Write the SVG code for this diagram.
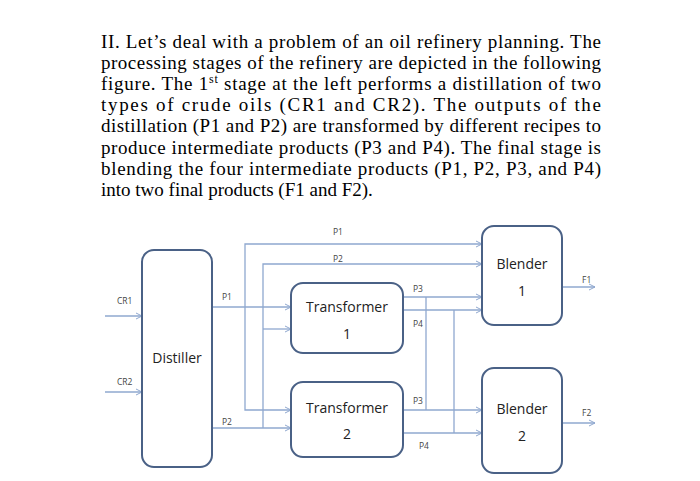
<svg xmlns="http://www.w3.org/2000/svg" width="700" height="481" viewBox="0 0 700 481">
<defs>
<marker id="a" markerWidth="8" markerHeight="8" refX="7" refY="4" orient="auto" markerUnits="userSpaceOnUse"><path d="M1,1 L7,4 L1,7" fill="none" stroke="#8fa8cf" stroke-width="1"/></marker>
</defs>
<style>
.p{font-family:"Liberation Serif",serif;font-size:19px;fill:#000}
.b{fill:#fff;stroke:#4a6186;stroke-width:2}
.n{font-family:"Open Sans","DejaVu Sans",sans-serif;font-size:14px;fill:#222;text-anchor:middle}
.l{font-family:"Open Sans","DejaVu Sans",sans-serif;font-size:8.5px;fill:#444}
.c{fill:none;stroke:#8fa8cf;stroke-width:1.3}
.c2{fill:none;stroke:#8fa8cf;stroke-width:1.3;marker-end:url(#a)}
</style>
<rect width="700" height="481" fill="#fff"/>
<g id="text">
<text class="p" x="101" y="48" textLength="500" lengthAdjust="spacing">II. Let’s deal with a problem of an oil refinery planning. The</text>
<text class="p" x="101" y="69" textLength="500" lengthAdjust="spacing">processing stages of the refinery are depicted in the following</text>
<text class="p" x="101" y="90" textLength="500" lengthAdjust="spacing">figure. The 1<tspan font-size="12" dy="-7">st</tspan><tspan dy="7"> stage at the left performs a distillation of two</tspan></text>
<text class="p" x="101" y="111" textLength="500" lengthAdjust="spacing">types of crude oils (CR1 and CR2). The outputs of the</text>
<text class="p" x="101" y="132" textLength="500" lengthAdjust="spacing">distillation (P1 and P2) are transformed by different recipes to</text>
<text class="p" x="101" y="154" textLength="500" lengthAdjust="spacing">produce intermediate products (P3 and P4). The final stage is</text>
<text class="p" x="101" y="175" textLength="500" lengthAdjust="spacing">blending the four intermediate products (P1, P2, P3, and P4)</text>
<text class="p" x="101" y="196">into two final products (F1 and F2).</text>
</g>
<g id="connectors">
<path class="c2" d="M105,316 H142"/>
<path class="c2" d="M105,392 H142"/>
<path class="c2" d="M212,307 H291"/>
<path class="c2" d="M212,428 H291"/>
<path class="c2" d="M245,307 V244 H482"/>
<path class="c2" d="M245,307 V410 H291"/>
<path class="c2" d="M263,428 V264 H482"/>
<path class="c2" d="M263,329 H291"/>
<path class="c2" d="M403,297 H482"/>
<path class="c2" d="M403,310 H482"/>
<path class="c2" d="M403,410 H482"/>
<path class="c2" d="M403,433 H482"/>
<path class="c" d="M426,297 V410"/>
<path class="c" d="M454,310 V433"/>
<path class="c2" d="M562,287 H595"/>
<path class="c2" d="M562,423 H595"/>
<text class="l" x="117" y="304">CR1</text>
<text class="l" x="117" y="385">CR2</text>
<text class="l" x="333" y="235">P1</text>
<text class="l" x="333" y="262">P2</text>
<text class="l" x="222" y="300">P1</text>
<text class="l" x="222" y="425">P2</text>
<text class="l" x="413" y="292">P3</text>
<text class="l" x="413" y="327">P4</text>
<text class="l" x="413" y="404">P3</text>
<text class="l" x="419" y="449">P4</text>
<text class="l" x="582" y="283">F1</text>
<text class="l" x="582" y="416">F2</text>
</g>
<g id="distiller"><rect class="b" x="142" y="250" width="70" height="217" rx="12"/><text class="n" x="177" y="363">Distiller</text></g>
<g id="transformer1"><rect class="b" x="291" y="283" width="112" height="70" rx="12"/><text class="n" x="347" y="312">Transformer</text><text class="n" x="347" y="339">1</text></g>
<g id="transformer2"><rect class="b" x="291" y="382" width="112" height="75" rx="12"/><text class="n" x="347" y="413">Transformer</text><text class="n" x="347" y="439">2</text></g>
<g id="blender1"><rect class="b" x="482" y="226" width="80" height="99" rx="12"/><text class="n" x="522" y="269">Blender</text><text class="n" x="522" y="296">1</text></g>
<g id="blender2"><rect class="b" x="482" y="368" width="80" height="105" rx="12"/><text class="n" x="522" y="414">Blender</text><text class="n" x="522" y="441">2</text></g>
</svg>
